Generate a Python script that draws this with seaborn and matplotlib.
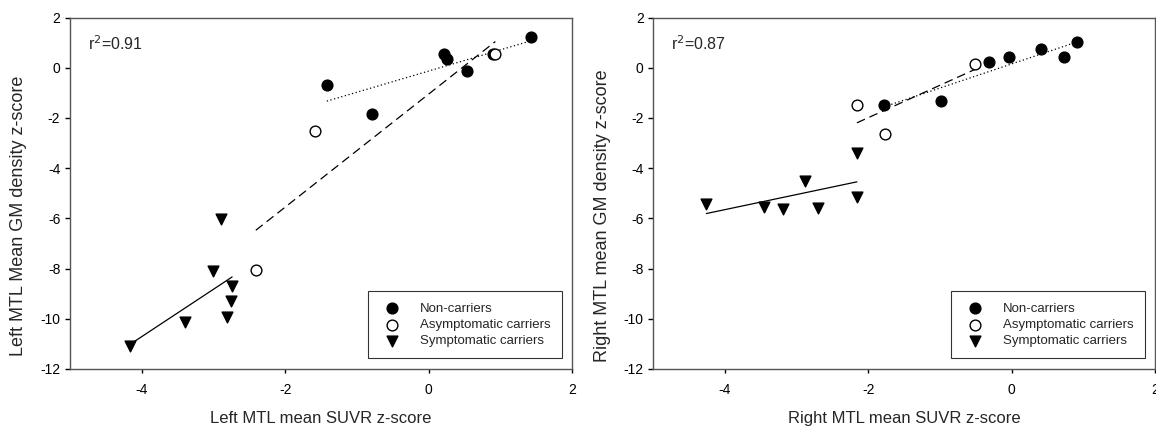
import numpy as np
import pandas as pd
import matplotlib
matplotlib.use('Agg')
import matplotlib.pyplot as plt
import seaborn as sns

sns.set_style('white')
plt.rcParams['font.family'] = ['Liberation Sans', 'DejaVu Sans']
plt.rcParams['axes.unicode_minus'] = False

groups = ['Non-carriers', 'Asymptomatic carriers', 'Symptomatic carriers']

# left hemisphere
left_non_x = [-1.42, -0.79, 0.22, 0.25, 0.54, 0.90, 1.42]
left_non_y = [-0.68, -1.83, 0.53, 0.33, -0.13, 0.56, 1.24]
left_asym_x = [-2.41, -1.59, 0.93]
left_asym_y = [-8.05, -2.54, 0.53]
left_sym_x = [-4.16, -3.40, -3.01, -2.89, -2.81, -2.76, -2.74]
left_sym_y = [-11.09, -10.13, -8.08, -6.03, -9.91, -9.28, -8.70]

# right hemisphere
right_non_x = [-1.78, -0.99, -0.32, -0.04, 0.41, 0.73, 0.91]
right_non_y = [-1.47, -1.33, 0.21, 0.44, 0.73, 0.44, 1.01]
right_asym_x = [-2.16, -1.77, -0.51]
right_asym_y = [-1.47, -2.64, 0.16]
right_sym_x = [-4.26, -3.46, -3.19, -2.88, -2.70, -2.16, -2.16]
right_sym_y = [-5.43, -5.54, -5.61, -4.52, -5.59, -3.41, -5.14]

r2_text = ['r$^2$=0.91', 'r$^2$=0.87']
xlabels = ['Left MTL mean SUVR z-score', 'Right MTL mean SUVR z-score']
ylabels = ['Left MTL Mean GM density z-score', 'Right MTL mean GM density z-score']


def make_df(nx, ny, ax_, ay, sx, sy):
    parts = []
    for g, xs, ys in zip(groups, [nx, ax_, sx], [ny, ay, sy]):
        parts.append(pd.DataFrame({'x': xs, 'y': ys, 'group': g}))
    return pd.concat(parts, ignore_index=True)


dfs = [make_df(left_non_x, left_non_y, left_asym_x, left_asym_y, left_sym_x, left_sym_y),
       make_df(right_non_x, right_non_y, right_asym_x, right_asym_y, right_sym_x, right_sym_y)]

marker_style = {'Non-carriers': dict(marker='o', color='black'),
                'Asymptomatic carriers': dict(marker='o', color='white'),
                'Symptomatic carriers': dict(marker='v', color='black')}
line_style = {'Non-carriers': (0, (1, 2)),
              'Asymptomatic carriers': (0, (7, 4)),
              'Symptomatic carriers': '-'}

fig = plt.figure(figsize=(11.56, 4.29), dpi=100)
axes = [fig.add_axes([0.0606, 0.1399, 0.4343, 0.8193]),
        fig.add_axes([0.5652, 0.1399, 0.4340, 0.8193])]

for i, ax in enumerate(axes):
    df = dfs[i]
    for g in groups:
        sub = df[df['group'] == g]
        sns.regplot(data=sub, x='x', y='y', ax=ax, scatter=False, ci=None, truncate=True,
                    line_kws=dict(color='black', lw=0.9, linestyle=line_style[g]))
    for g in groups:
        sub = df[df['group'] == g]
        st = marker_style[g]
        sns.scatterplot(data=sub, x='x', y='y', ax=ax, marker=st['marker'], color=st['color'],
                        edgecolor='black', linewidth=1.0, s=60, label=g, zorder=3)
    ax.set_xlim(-5, 2)
    ax.set_ylim(-12, 2)
    ax.set_xticks([-4, -2, 0, 2])
    ax.set_yticks(np.arange(-12, 3, 2))
    ax.tick_params(axis='both', direction='out', width=1, colors='black',
                   labelsize=10, bottom=True, left=True, top=False, right=False)
    ax.tick_params(axis='x', length=3, pad=7)
    ax.tick_params(axis='y', length=3.5, pad=3.5)
    for sp in ax.spines.values():
        sp.set_color('#555555')
        sp.set_linewidth(1.0)
    ax.set_xlabel(xlabels[i], fontsize=12, labelpad=10)
    ax.set_ylabel(ylabels[i], fontsize=13)
    ax.yaxis.set_label_coords(-0.085, 0.435)
    ax.text(0.036, 0.925, r2_text[i], transform=ax.transAxes, fontsize=11.5, va='center')
    leg = ax.legend(loc='lower right', fontsize=9.5, frameon=True, fancybox=False,
                    borderpad=0.85, handletextpad=1.1, labelspacing=0.3, borderaxespad=0.8)
    leg.get_frame().set_edgecolor('black')
    leg.get_frame().set_linewidth(0.8)

fig.savefig('out.png', dpi=100)
